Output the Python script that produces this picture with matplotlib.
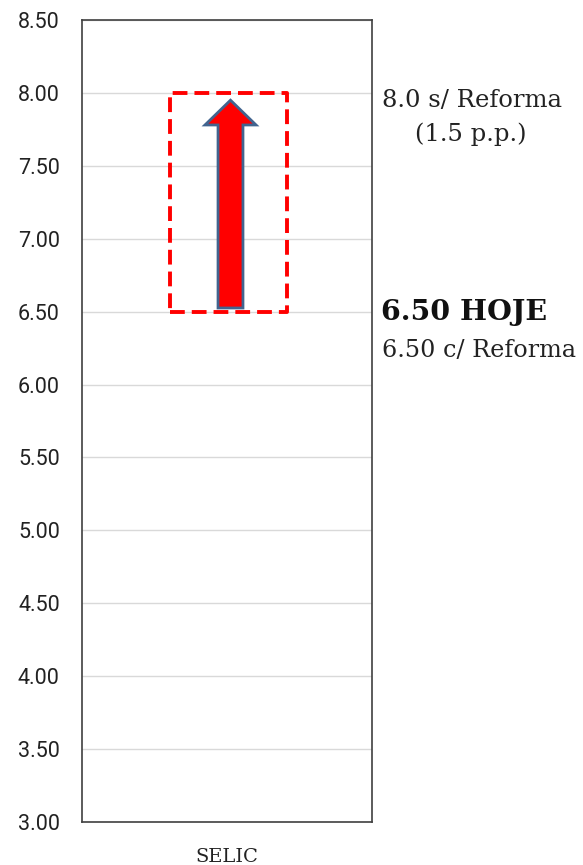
import matplotlib.pyplot as plt
from matplotlib.patches import Rectangle, FancyArrow

# dados
categorias = ['SELIC']
yticks = [3.00, 3.50, 4.00, 4.50, 5.00, 5.50, 6.00, 6.50, 7.00, 7.50, 8.00, 8.50]
selic_hoje = 6.50
selic_sem_reforma = 8.0
selic_com_reforma = 6.50
diferenca_pp = 1.5

serif = ['DejaVu Serif']

fig = plt.figure(figsize=(5.83, 8.65), dpi=100)
ax = fig.add_axes([0.1407, 0.0497, 0.4974, 0.9272])

ax.set_xlim(-0.5, 0.5)
ax.set_ylim(3.0, 8.5)
ax.set_yticks(yticks)
ax.set_yticklabels([f'{v:.2f}' for v in yticks], fontfamily='Roboto', fontsize=15.5, color='#222222')
ax.set_xticks([0.0])
ax.set_xticklabels(categorias, fontfamily=serif, fontsize=14, color='#222222')
ax.tick_params(axis='y', length=0, pad=16)
ax.tick_params(axis='x', length=0, pad=19)
ax.grid(axis='y', color='#d9d9d9', linewidth=1)
ax.set_axisbelow(True)
for s in ax.spines.values():
    s.set_color('#404040')
    s.set_linewidth(1.2)

# caixa tracejada
box = Rectangle((-0.197, selic_com_reforma), 0.404, selic_sem_reforma - selic_com_reforma,
                fill=False, edgecolor='#ff0000', linewidth=2.8, linestyle=(0, (3.8, 1.8)),
                joinstyle='round', zorder=3)
ax.add_patch(box)

# seta
arrow = FancyArrow(0.012, selic_hoje + 0.025, 0, selic_sem_reforma - selic_hoje - 0.075,
                   width=0.086, head_width=0.176, head_length=0.17,
                   length_includes_head=True, facecolor='#ff0000', edgecolor='#41648f',
                   linewidth=2, zorder=4)
ax.add_patch(arrow)

# rótulos à direita
ax.text(1.035, (selic_sem_reforma - 3.0) / 5.5 - 0.010, f'{selic_sem_reforma:.1f} s/ Reforma',
        transform=ax.transAxes, fontfamily=serif, fontsize=17.5, va='center', ha='left', color='#222222')
ax.text(1.148, (selic_sem_reforma - 3.0) / 5.5 - 0.052, f'({diferenca_pp} p.p.)',
        transform=ax.transAxes, fontfamily=serif, fontsize=17.5, va='center', ha='left', color='#222222')
ax.text(1.03, (selic_hoje - 3.0) / 5.5 - 0.001, f'{selic_hoje:.2f} HOJE',
        transform=ax.transAxes, fontfamily=serif, fontsize=20.5, fontweight='bold',
        va='center', ha='left', color='#111111')
ax.text(1.035, (selic_com_reforma - 3.0) / 5.5 - 0.049, f'{selic_com_reforma:.2f} c/ Reforma',
        transform=ax.transAxes, fontfamily=serif, fontsize=17.2, va='center', ha='left', color='#222222')

fig.savefig('out.png', dpi=100)
